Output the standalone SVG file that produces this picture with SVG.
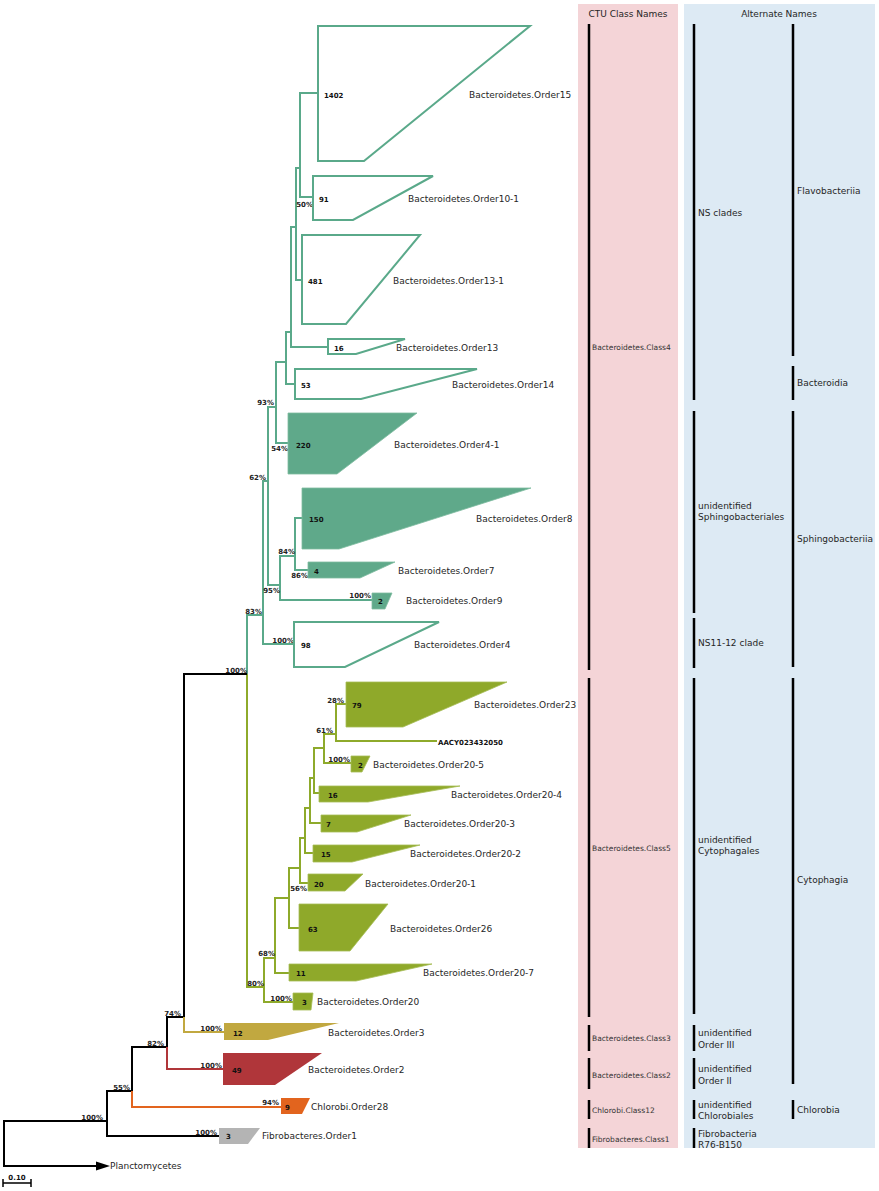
<svg xmlns="http://www.w3.org/2000/svg" width="879" height="1191" viewBox="0 0 879 1191">
<style>
.g{stroke:#5aa98a;stroke-width:2;fill:none}
.o{stroke:#8eaa2b;stroke-width:2;fill:none}
.k{stroke:#000;stroke-width:2;fill:none}
.go{stroke:#5aa98a;stroke-width:2;fill:#fff}
.gf{fill:#5fa98a;stroke:#7dbba0;stroke-width:0.8}
.of{fill:#8fa92a;stroke:#a6bd55;stroke-width:0.8}
.lab{font-family:"DejaVu Sans",sans-serif;font-size:9px;fill:#262626}
.n{font-family:"DejaVu Sans",sans-serif;font-size:7px;font-weight:bold;fill:#111}
.p{font-family:"DejaVu Sans",sans-serif;font-size:7px;font-weight:bold;fill:#222;text-anchor:end}
.cl{font-family:"DejaVu Sans",sans-serif;font-size:7.5px;fill:#333}
.bar{stroke:#000;stroke-width:2.5}
</style>
<rect width="879" height="1191" fill="#fff"/>
<g id="panels">
<rect x="578" y="4" width="100" height="1144" fill="#f4d4d7"/>
<rect x="684" y="4" width="191" height="1144" fill="#ddeaf4"/>
<text class="lab" x="628" y="17" text-anchor="middle">CTU Class Names</text>
<text class="lab" x="779" y="17" text-anchor="middle">Alternate Names</text>
<line class="bar" x1="589" y1="24" x2="589" y2="670"/>
<line class="bar" x1="589" y1="678" x2="589" y2="1017"/>
<line class="bar" x1="589" y1="1025" x2="589" y2="1051"/>
<line class="bar" x1="589" y1="1058" x2="589" y2="1089"/>
<line class="bar" x1="589" y1="1100" x2="589" y2="1119"/>
<line class="bar" x1="589" y1="1128" x2="589" y2="1148"/>
<text class="cl" x="592" y="350">Bacteroidetes.Class4</text>
<text class="cl" x="592" y="851">Bacteroidetes.Class5</text>
<text class="cl" x="592" y="1041">Bacteroidetes.Class3</text>
<text class="cl" x="592" y="1078">Bacteroidetes.Class2</text>
<text class="cl" x="592" y="1113">Chlorobi.Class12</text>
<text class="cl" x="592" y="1142">Fibrobacteres.Class1</text>
<line class="bar" x1="694" y1="24" x2="694" y2="400"/>
<line class="bar" x1="694" y1="411" x2="694" y2="613"/>
<line class="bar" x1="694" y1="618" x2="694" y2="668"/>
<line class="bar" x1="694" y1="678" x2="694" y2="1014"/>
<line class="bar" x1="694" y1="1025" x2="694" y2="1051"/>
<line class="bar" x1="694" y1="1058" x2="694" y2="1089"/>
<line class="bar" x1="694" y1="1100" x2="694" y2="1119"/>
<line class="bar" x1="694" y1="1128" x2="694" y2="1148"/>
<text class="lab" x="698" y="216">NS clades</text>
<text class="lab" x="698" y="509">unidentified</text>
<text class="lab" x="698" y="520">Sphingobacteriales</text>
<text class="lab" x="698" y="646">NS11-12 clade</text>
<text class="lab" x="698" y="843">unidentified</text>
<text class="lab" x="698" y="854">Cytophagales</text>
<text class="lab" x="698" y="1036">unidentified</text>
<text class="lab" x="698" y="1047.5">Order III</text>
<text class="lab" x="698" y="1072">unidentified</text>
<text class="lab" x="698" y="1084">Order II</text>
<text class="lab" x="698" y="1107.5">unidentified</text>
<text class="lab" x="698" y="1118.5">Chlorobiales</text>
<text class="lab" x="698" y="1137">Fibrobacteria</text>
<text class="lab" x="698" y="1147.5">R76-B150</text>
<line class="bar" x1="793" y1="24" x2="793" y2="356"/>
<line class="bar" x1="793" y1="366" x2="793" y2="400"/>
<line class="bar" x1="793" y1="411" x2="793" y2="667"/>
<line class="bar" x1="793" y1="678" x2="793" y2="1084"/>
<line class="bar" x1="793" y1="1100" x2="793" y2="1119"/>
<text class="lab" x="797" y="194">Flavobacteriia</text>
<text class="lab" x="797" y="386">Bacteroidia</text>
<text class="lab" x="797" y="542">Sphingobacteriia</text>
<text class="lab" x="797" y="883">Cytophagia</text>
<text class="lab" x="797" y="1113">Chlorobia</text>
</g>
<g id="connectors">
<path class="g" d="M318,93 H300 V197 H313"/>
<path class="g" d="M302,280 H296 V168 H300"/>
<path class="g" d="M296,227 H291 V347 H328"/>
<path class="g" d="M291,332 H286 V384 H295"/>
<path class="g" d="M286,362 H276 V443 H288"/>
<path class="g" d="M276,407 H268 V585 H280"/>
<path class="g" d="M295,556 H280 V600 H372"/>
<path class="g" d="M302,518 H295 V570 H308"/>
<path class="g" d="M268,481 H263 V644 H294"/>
<path class="g" d="M263,615 H247 V674"/>
<path class="o" d="M247,674 V987 H264"/>
<path class="o" d="M275,958 H264 V1002 H293"/>
<path class="o" d="M289,898 H275 V973 H289"/>
<path class="o" d="M300,868 H289 V928 H299"/>
<path class="o" d="M305,838 H300 V883 H308"/>
<path class="o" d="M310,808 H305 V853 H313"/>
<path class="o" d="M314,778 H310 V823 H321"/>
<path class="o" d="M324,748 H314 V793 H319"/>
<path class="o" d="M336,734 H324 V763 H351"/>
<path class="o" d="M346,704 H336 V741 H437"/>
<path class="k" d="M247,674 H184 V1017"/>
<path class="k" d="M184,1017 H167 V1047 H132 V1091 H107 V1136 H219"/>
<path class="k" d="M107,1121 H4 V1166 H98"/>
<polygon points="96,1161.5 110,1166 96,1170.5" fill="#000"/>
<path d="M184,1017 V1032 H224" stroke="#c1a840" stroke-width="2" fill="none"/>
<path d="M167,1047 V1069 H223" stroke="#b0363a" stroke-width="2" fill="none"/>
<path d="M132,1091 V1107 H281" stroke="#e2641e" stroke-width="2" fill="none"/>
<path d="M3,1179 V1187 M3,1183 H31 M31,1179 V1187" stroke="#000" stroke-width="1.5" fill="none"/>
<text class="n" x="17" y="1179.5" text-anchor="middle">0.10</text>
<text class="p" x="313" y="206.5">50%</text>
<text class="p" x="274" y="404.5">93%</text>
<text class="p" x="288" y="450.5">54%</text>
<text class="p" x="266" y="479.5">62%</text>
<text class="p" x="295" y="553.5">84%</text>
<text class="p" x="308" y="577.5">86%</text>
<text class="p" x="280" y="592.5">95%</text>
<text class="p" x="371" y="597.5">100%</text>
<text class="p" x="262" y="613.5">83%</text>
<text class="p" x="294" y="642.5">100%</text>
<text class="p" x="247" y="672.5">100%</text>
<text class="p" x="344" y="702.5">28%</text>
<text class="p" x="333" y="732.5">61%</text>
<text class="p" x="350" y="761.5">100%</text>
<text class="p" x="307" y="890.5">56%</text>
<text class="p" x="275" y="955.5">68%</text>
<text class="p" x="264" y="985.5">80%</text>
<text class="p" x="292" y="1000.5">100%</text>
<text class="p" x="181" y="1015.5">74%</text>
<text class="p" x="222" y="1030.5">100%</text>
<text class="p" x="164" y="1045.5">82%</text>
<text class="p" x="222" y="1067.5">100%</text>
<text class="p" x="130" y="1089.5">55%</text>
<text class="p" x="279" y="1104.5">94%</text>
<text class="p" x="103" y="1119.5">100%</text>
<text class="p" x="217" y="1134.5">100%</text>
</g>
<g id="order15"><polygon class="go" points="318,26 530,26 364,161 318,161"/><text class="n" x="324" y="97.5">1402</text><text class="lab" x="469" y="98">Bacteroidetes.Order15</text></g>
<g id="order10-1"><polygon class="go" points="313,176 433,176 353,220 313,220"/><text class="n" x="319" y="201.5">91</text><text class="lab" x="408" y="202">Bacteroidetes.Order10-1</text></g>
<g id="order13-1"><polygon class="go" points="302,235 420,235 346,324 302,324"/><text class="n" x="308" y="283.5">481</text><text class="lab" x="393" y="284">Bacteroidetes.Order13-1</text></g>
<g id="order13"><polygon class="go" points="328,339 405,339 356,354 328,354"/><text class="n" x="334" y="350.5">16</text><text class="lab" x="396" y="351">Bacteroidetes.Order13</text></g>
<g id="order14"><polygon class="go" points="295,369 477,369 361,399 295,399"/><text class="n" x="301" y="387.5">53</text><text class="lab" x="452" y="388">Bacteroidetes.Order14</text></g>
<g id="order4-1"><polygon class="gf" points="288,413 417,413 337,474 288,474"/><text class="n" x="296" y="447.5">220</text><text class="lab" x="394" y="448">Bacteroidetes.Order4-1</text></g>
<g id="order8"><polygon class="gf" points="302,488 531,488 339,549 302,549"/><text class="n" x="309" y="521.5">150</text><text class="lab" x="476" y="522">Bacteroidetes.Order8</text></g>
<g id="order7"><polygon class="gf" points="308,562 395,562 360,578 308,578"/><text class="n" x="314" y="573.5">4</text><text class="lab" x="398" y="574">Bacteroidetes.Order7</text></g>
<g id="order9"><polygon class="gf" points="372,593 392,593 385,609 372,609"/><text class="n" x="378" y="603.5">2</text><text class="lab" x="406" y="604">Bacteroidetes.Order9</text></g>
<g id="order4"><polygon class="go" points="294,622 439,622 345,667 294,667"/><text class="n" x="301" y="647.5">98</text><text class="lab" x="414" y="648">Bacteroidetes.Order4</text></g>
<g id="order23"><polygon class="of" points="346,682 507,682 403,727 346,727"/><text class="n" x="352" y="707.5">79</text><text class="lab" x="474" y="708">Bacteroidetes.Order23</text></g>
<g id="aacy"><text class="n" x="438" y="744.5">AACY023432050</text></g>
<g id="order20-5"><polygon class="of" points="351,756 370,756 362,772 351,772"/><text class="n" x="358" y="767.5">2</text><text class="lab" x="373" y="768">Bacteroidetes.Order20-5</text></g>
<g id="order20-4"><polygon class="of" points="319,786 460,786 368,802 319,802"/><text class="n" x="328" y="797.5">16</text><text class="lab" x="451" y="798">Bacteroidetes.Order20-4</text></g>
<g id="order20-3"><polygon class="of" points="321,815 411,815 357,832 321,832"/><text class="n" x="326" y="826.5">7</text><text class="lab" x="404" y="827">Bacteroidetes.Order20-3</text></g>
<g id="order20-2"><polygon class="of" points="313,845 420,845 352,862 313,862"/><text class="n" x="321" y="856.5">15</text><text class="lab" x="410" y="857">Bacteroidetes.Order20-2</text></g>
<g id="order20-1"><polygon class="of" points="308,874 363,874 345,891 308,891"/><text class="n" x="314" y="886.5">20</text><text class="lab" x="365" y="887">Bacteroidetes.Order20-1</text></g>
<g id="order26"><polygon class="of" points="299,904 388,904 350,951 299,951"/><text class="n" x="308" y="931.5">63</text><text class="lab" x="390" y="932">Bacteroidetes.Order26</text></g>
<g id="order20-7"><polygon class="of" points="289,964 432,964 356,981 289,981"/><text class="n" x="296" y="975.5">11</text><text class="lab" x="423" y="976">Bacteroidetes.Order20-7</text></g>
<g id="order20"><polygon class="of" points="293,993 313,993 311,1010 293,1010"/><text class="n" x="302" y="1004.5">3</text><text class="lab" x="317" y="1005">Bacteroidetes.Order20</text></g>
<g id="order3"><polygon points="224,1023 339,1023 268,1040 224,1040" fill="#c1a840"/><text class="n" x="233" y="1035.5">12</text><text class="lab" x="328" y="1036">Bacteroidetes.Order3</text></g>
<g id="order2"><polygon points="223,1053 322,1053 275,1085 223,1085" fill="#b0363a"/><text class="n" x="232" y="1072.5">49</text><text class="lab" x="308" y="1073">Bacteroidetes.Order2</text></g>
<g id="order28"><polygon points="281,1098 310,1098 302,1114 281,1114" fill="#e2641e"/><text class="n" x="285" y="1109.5">9</text><text class="lab" x="311" y="1110">Chlorobi.Order28</text></g>
<g id="fibro1"><polygon points="219,1128 260,1128 248,1144 219,1144" fill="#b4b4b4"/><text class="n" x="226" y="1138.5">3</text><text class="lab" x="262" y="1139">Fibrobacteres.Order1</text></g>
<g id="plancto"><text class="lab" x="110" y="1169">Planctomycetes</text></g>
</svg>
